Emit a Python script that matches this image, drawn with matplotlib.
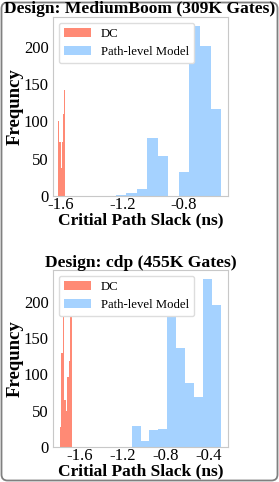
import numpy as np
import matplotlib
matplotlib.use('Agg')
import matplotlib.pyplot as plt
from matplotlib.patches import FancyBboxPatch
from matplotlib.transforms import IdentityTransform

# values (histogram counts per bin)
top_title = 'Design: MediumBoom (309K Gates)'
top_dc_range = (-1.618, -1.572)
top_dc_counts = [100, 72, 38, 72, 110, 142]
top_model_range = (-1.245, -0.559)
top_model_counts = [2, 4, 9, 78, 53, 0, 32, 228, 201, 116]
top_xticks = [-1.6, -1.2, -0.8]

bot_title = 'Design: cdp (455K Gates)'
bot_dc_range = (-1.786, -1.677)
bot_dc_counts = [28, 130, 215, 65, 50, 97, 118, 222]
bot_model_range = (-1.119, -0.291)
bot_model_counts = [29, 8, 24, 25, 193, 137, 88, 69, 232, 196]
bot_xticks = [-1.6, -1.2, -0.8, -0.4]

yticks = [0, 50, 100, 150, 200]

plt.rcParams['font.family'] = ['Liberation Serif', 'DejaVu Serif']
plt.rcParams['axes.unicode_minus'] = False

W, H = 279, 482
fig = plt.figure(figsize=(W/100, H/100), dpi=100)

def px_axes(l, t, r, b):
    return fig.add_axes([l/W, 1-b/H, (r-l)/W, (b-t)/H])

def draw(ax, dc_rng, dc_cnt, m_rng, m_cnt, xt, xlim, ylim):
    e1 = np.linspace(dc_rng[0], dc_rng[1], len(dc_cnt)+1)
    e2 = np.linspace(m_rng[0], m_rng[1], len(m_cnt)+1)
    ax.hist((e1[:-1]+e1[1:])/2, bins=e1, weights=dc_cnt, color='tomato', alpha=0.75, label='DC')
    ax.hist((e2[:-1]+e2[1:])/2, bins=e2, weights=m_cnt, color='dodgerblue', alpha=0.4, label='Path-level Model')
    ax.set_xlim(*xlim)
    ax.set_ylim(*ylim)
    ax.set_xticks(xt)
    ax.set_xticklabels(['%.1f' % v for v in xt])
    ax.set_yticks(yticks)
    ax.tick_params(length=0, labelsize=12)
    ax.tick_params(axis='x', pad=1)
    ax.tick_params(axis='y', pad=3)
    for s in ax.spines.values():
        s.set_color('#c8c8c8')
        s.set_linewidth(0.8)
    ax.set_ylabel('Frequncy', fontsize=13.5, fontweight='bold', labelpad=0)
    ax.set_xlabel('Critial Path Slack (ns)', fontsize=12.5, fontweight='bold', labelpad=-1)
    leg = ax.legend(loc='upper left', fontsize=9.2, framealpha=1, edgecolor='#dddddd',
                    borderaxespad=0.45, handlelength=2.1)
    leg.set_zorder(5)

ax1 = px_axes(53, 17, 228, 196)
draw(ax1, top_dc_range, top_dc_counts, top_model_range, top_model_counts, top_xticks, (-1.652, -0.514), (0, 240))
ax2 = px_axes(53, 270, 228, 447)
draw(ax2, bot_dc_range, bot_dc_counts, bot_model_range, bot_model_counts, bot_xticks, (-1.851, -0.223), (0, 244))

border = FancyBboxPatch((1.5, 1.5), W-3, H-4, boxstyle='round,pad=0,rounding_size=6',
                        transform=IdentityTransform(), fill=False, edgecolor='#808080', linewidth=1.3)
fig.patches.append(border)

fig.text(0.5, 1-9/H, top_title, ha='center', va='center', fontsize=12.6, fontweight='bold')
fig.text(0.505, 1-263/H, bot_title, ha='center', va='center', fontsize=12.6, fontweight='bold')

fig.savefig('out.png', dpi=100)
